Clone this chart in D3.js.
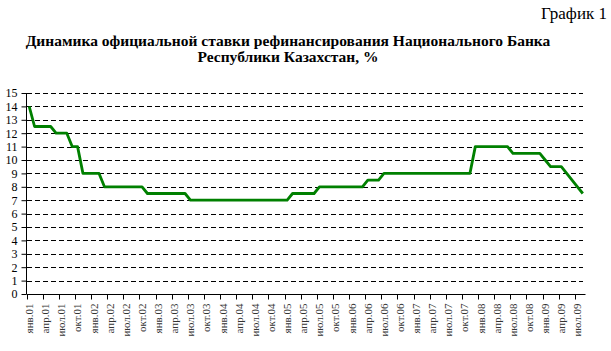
<!DOCTYPE html>
<html>
<head>
<meta charset="utf-8">
<script src="https://cdn.jsdelivr.net/npm/d3@7"></script>
<style>
  body { margin: 0; background: #fff; }
  svg { display: block; }
  text { font-family: "Liberation Serif", "Times New Roman", serif; }
</style>
</head>
<body>
<svg id="chart" width="611" height="351"></svg>
<script>
// ---- data ----
const monthNames = ["янв","фев","мар","апр","май","июн","июл","авг","сен","окт","ноя","дек"];
const years = ["01","02","03","04","05","06","07","08","09"];
const monthCount = 104; // янв.01 .. авг.09
const rateValues = [
  14,
  12.5, 12.5, 12.5, 12.5,
  12, 12, 12,
  11, 11,
  9, 9, 9, 9,
  8, 8, 8, 8, 8, 8, 8, 8,
  7.5, 7.5, 7.5, 7.5, 7.5, 7.5, 7.5, 7.5,
  7, 7, 7, 7, 7, 7, 7, 7, 7, 7, 7, 7, 7, 7, 7, 7, 7, 7, 7,
  7.5, 7.5, 7.5, 7.5, 7.5,
  8, 8, 8, 8, 8, 8, 8, 8, 8,
  8.5, 8.5, 8.5,
  9, 9, 9, 9, 9, 9, 9, 9, 9, 9, 9, 9, 9, 9, 9, 9, 9,
  11, 11, 11, 11, 11, 11, 11,
  10.5, 10.5, 10.5, 10.5, 10.5, 10.5,
  10,
  9.5, 9.5, 9.5,
  9, 8.5, 8, 7.5
];
const yTicks = [0,1,2,3,4,5,6,7,8,9,10,11,12,13,14,15];
const titleLines = ["Динамика официальной ставки рефинансирования Национального Банка", "Республики Казахстан, %"];
const chartLabel = "График 1";

const categories = [];
for (let i = 0; i < monthCount; i++) {
  categories.push(monthNames[i % 12] + "." + years[Math.floor(i / 12)]);
}
const data = categories.map((c, i) => ({ c, v: rateValues[i] }));

// ---- layout ----
const svg = d3.select("#chart");
const x = d3.scaleBand().domain(categories).range([26.5, 585.5]).paddingInner(0).paddingOuter(0);
const y = d3.scaleLinear().domain([0, 15]).range([294, 93]);
const bw = x.bandwidth();

// header
svg.append("text").attr("x", 607).attr("y", 19).attr("text-anchor", "end")
  .attr("font-size", 17).text(chartLabel);
svg.selectAll("text.title").data(titleLines).join("text").attr("class", "title")
  .attr("x", 288).attr("y", (d, i) => 46 + i * 15.5)
  .attr("text-anchor", "middle").attr("font-weight", "bold").attr("font-size", 15.5)
  .text(d => d);

// gridlines
svg.append("g").selectAll("line").data(yTicks.filter(t => t > 0)).join("line")
  .attr("x1", 27).attr("x2", 583)
  .attr("y1", d => Math.round(y(d)) + 0.5).attr("y2", d => Math.round(y(d)) + 0.5)
  .attr("stroke", "#000").attr("stroke-width", 1).attr("stroke-dasharray", "5,3");

// y axis
const yAxis = svg.append("g").attr("transform", "translate(26.5,0)")
  .call(d3.axisLeft(y).tickValues(yTicks).tickSize(5).tickPadding(4).tickFormat(d3.format("d")));
yAxis.select(".domain").attr("d", `M0,${y(15)}V${y(0)}`).attr("stroke", "#000");
yAxis.selectAll(".tick line").attr("stroke", "#000");
yAxis.selectAll(".tick text").attr("font-family", "Liberation Serif, serif").attr("font-size", 12).attr("fill", "#000");

// x axis
const xg = svg.append("g").attr("transform", `translate(0,${Math.round(y(0)) + 0.5})`);
xg.append("line").attr("x1", 26.5).attr("x2", 585.5).attr("stroke", "#000");
const tickCats = categories.filter((c, i) => i % 3 === 0);
xg.selectAll("line.tk").data(tickCats).join("line").attr("class", "tk")
  .attr("x1", d => Math.round(x(d)) + 0.5).attr("x2", d => Math.round(x(d)) + 0.5)
  .attr("y1", 0).attr("y2", 5).attr("stroke", "#000");
xg.selectAll("text").data(tickCats).join("text")
  .attr("transform", d => `translate(${x(d) + bw / 2},9) rotate(-90)`)
  .attr("text-anchor", "end").attr("dy", "0.35em").attr("font-size", 11).attr("fill", "#333")
  .text(d => d);

// line
const line = d3.line().x(d => x(d.c) + bw / 2).y(d => y(d.v));
svg.append("path").datum(data).attr("d", line)
  .attr("fill", "none").attr("stroke", "#008000").attr("stroke-width", 2.8)
  .attr("stroke-linejoin", "round");
</script>
</body>
</html>
